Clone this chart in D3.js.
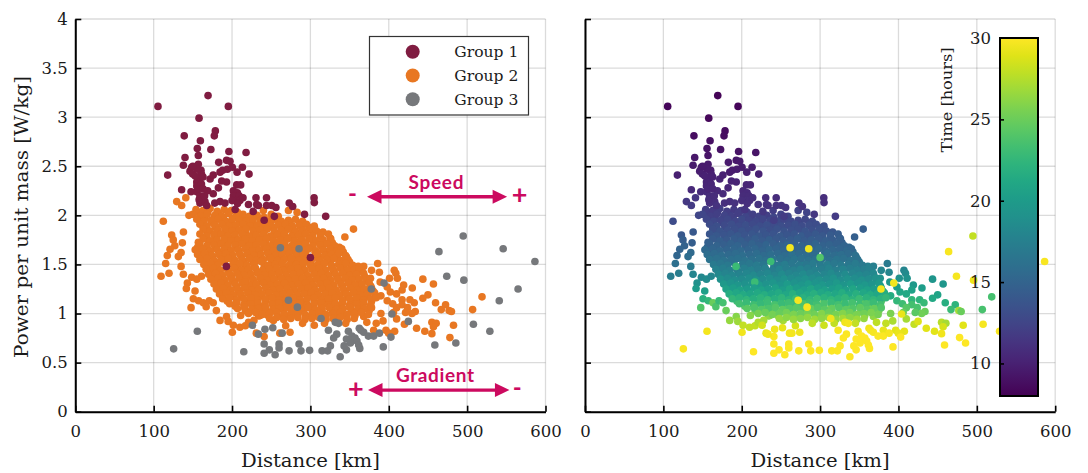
<!DOCTYPE html>
<html><head><meta charset="utf-8">
<script src="https://cdnjs.cloudflare.com/ajax/libs/d3/7.8.5/d3.min.js"></script>
<style>
html,body{margin:0;padding:0;background:#fff}
svg{display:block}
text{font-family:"DejaVu Serif",serif;fill:#1a1a1a}
.ann{font-family:Lato,"Open Sans",sans-serif;font-weight:700;fill:#cc0a5f}
</style></head><body>
<div id="chart"></div>
<script>
const distanceTicks=[0,100,200,300,400,500,600];
const powerTicks=[0,0.5,1,1.5,2,2.5,3,3.5,4];
const timeTicks=[10,15,20,25,30];
const groupNames=["Group 1","Group 2","Group 3"];
const groupColors=["#801c41","#e87722","#76787b"];
// [distance km, power W/kg, time h]
const group1=[[105.5,3.11,8.3],[169.4,3.22,8.2],[195.3,3.11,8.3],[157.9,2.99,8.4],[139,2.81,8.8],[178.7,2.86,8.7],[177.4,2.81,8.8],[159.6,2.76,8.9],[155.7,2.68,9.1],[157,2.61,9.2],[173,2.67,9.1],[196,2.65,9.1],[217.9,2.64,9.2],[140,2.59,9.4],[137.9,2.51,9.6],[183,2.54,9.5],[193,2.56,9.4],[197.4,2.55,9.5],[157,2.52,9.6],[148.5,2.49,9.6],[146.4,2.45,9.8],[160.4,2.46,9.7],[117.9,2.41,9.9],[149.8,2.42,9.9],[161,2.42,9.9],[184.7,2.44,9.8],[188,2.46,9.7],[194,2.47,9.7],[200.4,2.49,9.7],[213.2,2.49,9.7],[206.4,2.44,9.9],[221.7,2.42,10],[172,2.37,10.1],[176,2.41,10],[186.8,2.35,10.2],[193,2.34,10.2],[159,2.37,10.1],[155,2.34,10.2],[155,2.3,10.3],[161,2.32,10.3],[182.6,2.28,10.4],[206,2.31,10.3],[211,2.31,10.3],[201.7,2.25,10.5],[206.8,2.23,10.6],[135.7,2.26,10.5],[147.7,2.24,10.6],[155,2.24,10.6],[169,2.25,10.5],[176,2.22,10.6],[159,2.2,10.7],[201.7,2.2,10.7],[209,2.2,10.7],[230.6,2.18,10.8],[244,2.18,10.8],[159,2.125,11],[165.5,2.14,11],[178,2.125,11],[184.7,2.14,11],[191,2.125,11.1],[206,2.15,10.9],[210,2.15,10.9],[221,2.11,11.1],[231.5,2.11,11.1],[233.6,2.1,11.1],[244,2.1,11.2],[250.6,2.1,11.2],[256,2.08,11.2],[273,2.125,11.1],[277.4,2.09,11.2],[227,2.04,11.5],[241,1.95,12],[254,1.99,11.8],[204,2.06,11.4],[167.7,2.1,11.2],[304.7,2.18,10.9],[305,2.13,11],[292.5,2.01,11.5],[319.5,1.99,11.8],[192.8,1.48,23],[300,1.57,24],[156,2.47,9.7],[163,2.39,10],[157,2.27,10.4],[163,2.27,10.4],[158,2.16,10.8],[200,2.15,10.9],[207,2.12,11],[214,2.18,10.8],[150,2.5,9.6],[153,2.4,10],[165,2.2,10.7]];
const group3=[[125.5,0.64,29.8],[155.7,0.82,29.6],[215,0.61,30],[226,0.88,28.5],[233.6,0.79,29.5],[242,0.84,29.4],[252,0.855,29.2],[264,0.8,29.6],[241,0.69,29.9],[241,0.595,30],[247.6,0.63,30],[255,0.58,30],[260,0.69,30],[260,0.65,30],[272.8,0.62,30],[261.7,1.67,29.6],[285.5,1.66,29.5],[272,1.135,29.7],[283.4,1.065,29.7],[285.5,0.69,30],[288,0.62,30],[495,1.79,28],[546,1.66,29.7],[464,1.63,29.8],[586.5,1.53,29.8],[474,1.38,29.7],[495.8,1.34,29.4],[565,1.25,29.8],[541,1.13,29.8],[394,1.31,29.6],[377.7,1.25,29.6],[508,0.89,29.7],[529,0.82,29.8],[404,0.995,29.3],[425,0.92,28.8],[402.8,0.76,30],[458.8,0.68,30],[485.6,0.7,30],[393,0.66,30],[313.6,0.95,29.4],[331.8,0.91,29.5],[336,0.9,29.6],[323,0.83,29.8],[333.6,0.79,29.9],[329.7,0.75,30],[325.5,0.67,30],[314.9,0.62,30],[322,0.62,30],[299,0.625,30],[346,0.63,30],[338,0.56,30],[348.5,0.82,29.7],[346,0.74,30],[353,0.77,30],[355,0.735,30],[357,0.75,30],[359.4,0.72,30],[361.6,0.68,30],[363,0.645,30],[362.4,0.85,29.5],[364.5,0.83,29.6],[368,0.81,29.7],[374,0.77,29.9],[380.7,0.77,29.9],[388,0.8,29.7],[351,0.7,30],[343,0.67,30]];
const group2=[
[129.4,2.14,11.6],[135.7,2.1,11.8],[141,2.18,11.4],[112.3,1.94,13],[145,2,12.6],[138,1.83,14],[123,1.8,14],[125,1.75,14.5],[127,1.69,14.8],[120.9,1.655,15],[117.4,1.59,15.2],[115.3,1.51,16],[136.6,1.72,14.5],[135,1.62,15.5],[131.5,1.58,15.8],[135,1.48,17],[137.9,1.4,18],[109.4,1.38,17.2],[119.6,1.41,17.2],[143,1.31,19],[141.7,1.255,20],[152.8,1.23,20.3],[148.5,1.37,18.3],[155,1.35,18.6],[161,1.38,18.2],[150.6,1.15,22],[147.7,1.06,24],[157.4,1.13,22.6],[163.4,1.11,25],[167,1.07,23.8],[171,1.13,22.8],[176,1.11,23.5],[180,1.03,25],[184.7,0.93,26.5],[193,0.97,26],[195,0.92,26.8],[200.4,0.81,29.5],[201.7,0.88,28],[210,0.86,28],[217,0.875,28],[221,0.91,27.5],[211,0.98,26],[231,0.8,29.3],[235.7,0.98,26.3],[241,0.765,29.8],[261,0.8,29.6],[274,0.81,29.4],[268.5,0.875,28.6],[252.8,0.93,27],[228,0.93,27],
[154,2.06,12],[163,2.05,11.8],[172,2.07,12.1],[181,2.04,12],[190,2.06,11.7],[199,2.05,12],[207,2.03,12.2],[240,2.05,12],[272,2.05,12.3],[283,2.03,12.4],
[150,2.01,12.6],[160,1.99,12.2],[168,2.01,12.1],[178,2,12.4],[187,1.99,12.2],[195,2.02,12],[205,1.99,12.5],[214,2.01,12.2],[222,1.99,12.4],[232,2,12.1],[241,1.98,12.6],[250,2.01,12.3],[259,1.99,12.5],
[155,1.96,12.6],[164,1.94,12.8],[173,1.95,12.5],[182,1.96,12.7],[192,1.94,12.6],[200,1.96,12.9],[209,1.95,12.5],[218,1.94,12.8],[227,1.96,12.6],[236,1.95,12.7],[245,1.94,12.9],[254,1.96,12.6],[263,1.94,12.8],[272,1.95,12.6],[281,1.96,12.7],[290,1.94,12.9],
[159,1.91,13],[168,1.89,13.3],[178,1.9,12.9],[187,1.91,13.2],[196,1.89,13],[205,1.9,13.3],[214,1.91,12.9],[223,1.89,13.1],[232,1.9,13.4],[241,1.91,13],[250,1.89,13.2],[259,1.9,13],[268,1.91,13.3],[277,1.89,13],[286,1.9,13.2],[295,1.91,13.1],[305,1.89,13.3],
[163,1.86,13.3],[172,1.84,13.6],[182,1.85,13.4],[191,1.86,13.3],[200,1.84,13.6],[209,1.85,13.3],[218,1.86,13.5],[227,1.84,13.7],[236,1.85,13.3],[245,1.86,13.5],[254,1.84,13.6],[263,1.85,13.4],[272,1.86,13.3],[281,1.84,13.7],[290,1.85,13.4],[299,1.86,13.5],[308,1.84,13.6],[355,1.86,14.5],
[159,1.81,13.8],[168,1.79,14],[177,1.8,13.7],[186,1.81,13.9],[195,1.79,14.1],[204,1.8,13.7],[213,1.81,13.9],[222,1.79,14],[231,1.8,13.8],[240,1.81,13.7],[249,1.79,14.1],[258,1.8,13.8],[267,1.81,13.9],[276,1.79,14.2],[285,1.8,13.8],[294,1.81,14],[303,1.79,14],[313,1.8,14.2],[323,1.81,14.3],[344,1.78,14.6],
[163,1.76,14.2],[172,1.74,14.5],[181,1.75,14.1],[190,1.76,14.3],[199,1.74,14.5],[208,1.75,14.1],[217,1.76,14.4],[226,1.74,14.2],[235,1.75,14.5],[244,1.76,14.1],[253,1.74,14.3],[262,1.75,14.2],[271,1.76,14.5],[280,1.74,14.2],[289,1.75,14.4],[298,1.76,14.2],[307,1.74,14.5],[316,1.75,14.3],[326,1.76,14.6],
[159,1.71,14.7],[168,1.69,14.9],[177,1.7,14.6],[186,1.71,14.8],[195,1.69,15],[204,1.7,14.6],[213,1.71,14.9],[222,1.69,14.7],[231,1.7,15],[240,1.71,14.6],[249,1.69,14.8],[258,1.7,15],[267,1.71,14.6],[276,1.69,14.9],[285,1.7,14.7],[294,1.71,15],[303,1.69,14.8],[312,1.7,14.9],[321,1.71,14.7],[331,1.69,15],
[153,1.65,15.4],[163,1.66,15.1],[172,1.64,15.3],[181,1.65,15],[190,1.66,15.2],[199,1.64,15.4],[208,1.65,15],[217,1.66,15.3],[226,1.64,15.1],[235,1.65,15.4],[244,1.66,15],[253,1.64,15.2],[262,1.65,15.4],[271,1.66,15],[280,1.64,15.3],[289,1.65,15.1],[298,1.66,15.4],[307,1.64,15.2],[316,1.65,15.3],[325,1.66,15.1],[334,1.64,15.4],[340,1.66,15.2],
[156,1.6,15.9],[165,1.61,15.6],[174,1.59,15.8],[183,1.6,15.5],[192,1.61,15.7],[201,1.59,15.9],[210,1.6,15.5],[219,1.61,15.8],[228,1.59,15.6],[237,1.6,15.9],[246,1.61,15.5],[255,1.59,15.7],[264,1.6,16],[273,1.61,15.6],[282,1.59,15.8],[291,1.6,15.6],[309,1.61,15.9],[318,1.59,15.7],[327,1.6,15.9],[336,1.61,15.6],[345,1.59,16],
[159,1.55,16.4],[168,1.56,16.1],[177,1.54,16.3],[186,1.55,16],[195,1.56,16.2],[204,1.54,16.4],[213,1.55,16],[222,1.56,16.3],[231,1.54,16.1],[240,1.55,16.5],[249,1.56,16],[258,1.54,16.2],[267,1.55,16.5],[276,1.56,16.1],[285,1.54,16.3],[294,1.55,16.1],[303,1.56,16.4],[312,1.54,16.2],[321,1.55,16.5],[330,1.56,16.1],[339,1.54,16.4],[348,1.55,16.2],
[164,1.5,17],[173,1.51,16.7],[182,1.49,16.9],[201,1.5,16.6],[210,1.51,16.8],[219,1.49,17.1],[228,1.5,16.6],[237,1.53,23],[246,1.49,16.9],[255,1.5,17.2],[264,1.51,16.7],[273,1.49,16.9],[282,1.5,16.7],[291,1.51,17.1],[300,1.49,16.9],[309,1.5,17.2],[318,1.51,16.8],[327,1.49,17],[336,1.5,16.7],[345,1.51,17.1],[354,1.49,16.9],[368,1.48,17.4],
[167,1.45,17.6],[176,1.46,17.3],[185,1.44,17.5],[194,1.45,17.2],[203,1.46,17.4],[212,1.44,17.7],[221,1.45,17.2],[230,1.46,17.5],[239,1.44,17.3],[248,1.45,17.8],[257,1.46,17.2],[266,1.44,17.5],[275,1.45,17.8],[284,1.46,17.3],[293,1.44,17.6],[302,1.45,17.3],[311,1.46,17.7],[320,1.44,17.4],[329,1.45,17.8],[338,1.46,17.3],[347,1.44,17.6],[356,1.45,17.4],[362,1.46,17.6],[385.8,1.51,17],[378,1.44,18],[407,1.44,18],
[170,1.4,18.3],[179,1.41,17.9],[188,1.39,18.1],[197,1.4,17.8],[206,1.41,18.1],[215,1.39,18.4],[224,1.4,17.9],[233,1.41,18.2],[242,1.39,18],[251,1.4,18.5],[260,1.41,17.9],[269,1.39,18.2],[278,1.4,18.5],[287,1.41,18],[296,1.39,18.3],[305,1.4,18],[314,1.41,18.4],[323,1.39,18.1],[332,1.4,18.5],[341,1.41,18],[350,1.39,18.3],[359,1.4,18],[368,1.41,18.3],[388,1.42,18],[409,1.41,18.4],
[173,1.35,19],[182,1.36,18.6],[191,1.34,18.8],[200,1.35,18.5],[209,1.36,18.8],[218,1.34,19.1],[227,1.35,18.6],[236,1.36,18.9],[245,1.34,18.7],[254,1.35,19.2],[263,1.36,18.6],[272,1.34,18.9],[281,1.35,19.2],[290,1.36,18.7],[299,1.34,19],[308,1.35,18.7],[317,1.36,19.1],[326,1.34,18.8],[335,1.35,19.2],[344,1.36,18.7],[353,1.34,19],[362,1.35,18.7],[371,1.36,19],[376.7,1.36,19],[401,1.36,19],[411,1.36,19.2],[443.5,1.35,19.5],
[177,1.3,19.8],[186,1.31,19.4],[195,1.29,19.6],[204,1.3,19.2],[213,1.31,19.5],[222,1.29,19.9],[231,1.3,19.3],[240,1.31,19.6],[249,1.29,19.4],[258,1.3,20],[267,1.31,19.3],[276,1.29,19.6],[285,1.3,20],[294,1.31,19.4],[303,1.29,19.7],[312,1.3,19.4],[321,1.31,19.8],[330,1.29,19.5],[339,1.3,20],[348,1.31,19.4],[357,1.29,19.7],[366,1.3,19.4],[375,1.31,19.8],[389,1.32,19.6],[419,1.29,19.8],[457,1.3,19.6],[216.6,1.32,23],
[180,1.25,20.6],[189,1.26,20.2],[198,1.24,20.4],[207,1.25,20],[216,1.26,20.3],[225,1.24,20.7],[234,1.25,20.1],[243,1.26,20.4],[252,1.24,20.2],[261,1.25,20.9],[270,1.26,20.1],[279,1.24,20.4],[288,1.25,20.9],[297,1.26,20.2],[306,1.24,20.5],[315,1.25,20.2],[324,1.26,20.6],[333,1.24,20.3],[342,1.25,20.9],[351,1.26,20.2],[360,1.24,20.5],[369,1.25,20.2],[378,1.26,20.6],[430,1.26,20.2],[417,1.24,20.6],[402,1.22,21],[398,1.27,20.2],
[184,1.2,21.6],[193,1.21,21.1],[202,1.19,21.4],[211,1.2,20.9],[220,1.21,21.3],[229,1.19,21.7],[238,1.2,21],[247,1.21,21.4],[256,1.19,21.1],[265,1.2,21.9],[274,1.21,21],[283,1.19,21.4],[292,1.2,21.9],[301,1.21,21.1],[310,1.19,21.5],[319,1.2,21.1],[328,1.21,21.6],[337,1.19,21.2],[346,1.2,21.9],[355,1.21,21.1],[364,1.19,21.5],[373,1.2,21.1],[382,1.21,21.6],[410,1.2,21.2],[390,1.18,21.5],[450,1.19,20.8],[519,1.17,23.5],
[188,1.15,22.6],[197,1.16,22.1],[206,1.14,22.4],[215,1.15,21.9],[224,1.16,22.3],[233,1.14,22.8],[242,1.15,22],[251,1.16,22.4],[260,1.14,22.1],[269,1.15,23],[278,1.16,22],[287,1.14,22.4],[296,1.15,23],[305,1.16,22.1],[314,1.14,22.5],[323,1.15,22.1],[332,1.16,22.6],[341,1.14,22.2],[350,1.15,23],[359,1.16,22.1],[368,1.14,22.5],[377,1.15,22.1],[384,1.16,22.6],[427,1.14,22.2],[398,1.13,22.6],[443.5,1.155,21.2],[417,1.14,22.4],
[197,1.1,23.3],[206,1.11,22.9],[215,1.09,23.2],[224,1.1,22.7],[233,1.11,23.1],[242,1.09,23.6],[251,1.1,22.9],[260,1.11,23.2],[269,1.09,22.9],[278,1.1,23.8],[287,1.11,22.9],[296,1.09,23.3],[305,1.1,23.8],[314,1.11,23],[323,1.09,23.4],[332,1.1,23],[341,1.11,23.5],[350,1.09,23.1],[359,1.1,23.8],[368,1.11,23],[377,1.09,23.4],[432.5,1.11,22.8],[417,1.09,23.4],[405,1.1,23.2],[459.7,1.11,21.8],[472.5,1.09,22.2],
[207,1.05,24.4],[216,1.06,23.9],[225,1.04,24.2],[234,1.05,23.8],[243,1.06,24.2],[252,1.04,24.6],[261,1.05,24],[270,1.06,24.3],[279,1.04,24],[288,1.05,24.9],[297,1.06,24],[306,1.04,24.4],[315,1.05,24.8],[324,1.06,24],[333,1.04,24.5],[342,1.05,24],[351,1.06,24.6],[360,1.04,24.2],[369,1.05,24.9],[378,1.06,24],[424,1.06,23.6],[467,1.04,23],[477,1.03,27],[507,1.04,23.6],[410,1.06,24.2],
[221,1,25.4],[230,1.01,25],[239,0.99,25.4],[248,1,24.9],[257,1.01,25.3],[266,0.99,25.7],[275,1,25.1],[284,1.01,25.4],[293,0.99,25.2],[302,1,25.9],[311,1.01,25.1],[320,0.99,25.5],[329,1,25.9],[338,1.01,25.2],[347,0.99,25.6],[356,1,25.2],[365,1.01,25.7],[374,0.99,25.4],[433.8,1.02,25],[429.6,1,25.2],[421.4,1.01,24.4],[406,1.01,25],[480,1.02,25],[390,1,25.6],
[248,0.95,26.6],[257,0.96,26.2],[266,0.94,26.6],[275,0.95,26.1],[284,0.96,26.4],[293,0.94,26.9],[302,0.95,26.3],[311,0.96,26.5],[320,0.94,26.4],[329,0.95,27],[338,0.96,26.3],[347,0.94,26.7],[356,0.95,26.4],[410,0.945,27],[392.7,0.925,27.2],[420,0.89,28],[455,0.91,27.6],[460.5,0.9,27],[457,0.865,28.6],[482.6,0.88,29],[435.5,0.85,29],[446,0.82,29],[455,0.795,29.5],[478,0.755,30],[380.7,0.83,29.3],[396.4,0.83,29],[407.5,0.82,29.2],[399.8,0.8,29.3],[290,0.9,27.8],[305,0.88,28.3],[318,0.9,28],[345,0.9,28],[372,0.91,27.8],[384,0.9,28]
];
// densest part of the cloud, second pass between the points above
const group2Dense=[
[157,2.03,12.2],[169,2.03,12],[183,2.02,12.3],[196,2.03,12.1],
[165,1.97,12.6],[177,1.98,12.3],[189,1.975,12.5],[201,1.97,12.4],[213,1.98,12.6],[226,1.975,12.3],[238,1.97,12.5],[251,1.98,12.4],
[163,1.93,13],[176,1.92,12.7],[188,1.925,13],[199,1.93,12.8],[212,1.92,13],[224,1.93,12.7],[236,1.925,13.1],[249,1.92,12.8],[260,1.93,13],[274,1.925,12.8],[286,1.92,13],
[167,1.87,13.5],[179,1.88,13.1],[191,1.875,13.4],[203,1.87,13.2],[216,1.88,13.5],[227,1.875,13.1],[240,1.87,13.4],[252,1.88,13.2],[265,1.875,13.5],[276,1.87,13.3],[289,1.88,13.4],[300,1.875,13.2],
[168,1.83,13.9],[180,1.82,13.5],[193,1.825,13.8],[204,1.83,13.6],[217,1.82,14],[229,1.825,13.5],[241,1.83,13.8],[254,1.82,13.6],[266,1.825,14],[278,1.83,13.6],[291,1.82,13.9],[303,1.825,13.7],[316,1.83,13.9],
[166,1.78,14.3],[179,1.77,13.9],[191,1.775,14.3],[203,1.78,14],[216,1.77,14.4],[227,1.775,13.9],[239,1.78,14.3],[252,1.77,14],[264,1.775,14.5],[277,1.78,14],[288,1.77,14.3],[301,1.775,14.1],[313,1.78,14.4],[325,1.77,14.2],
[157,1.725,14.5],[170,1.73,14.9],[182,1.72,14.4],[194,1.725,14.8],[206,1.73,14.5],[218,1.72,14.9],[230,1.725,14.4],[243,1.73,14.8],[255,1.72,14.5],[267,1.725,15.1],[279,1.73,14.5],[292,1.72,14.9],[304,1.725,14.6],[316,1.73,14.9],[328,1.72,14.7],
[156,1.675,15],[168,1.68,15.4],[180,1.67,14.9],[193,1.675,15.3],[205,1.68,15],[217,1.67,15.5],[229,1.675,14.9],[241,1.68,15.3],[254,1.67,15],[266,1.675,15.6],[278,1.68,15],[290,1.67,15.4],[302,1.675,15.1],[315,1.68,15.4],[327,1.67,15.2],[337,1.675,15.3],
[160,1.625,15.5],[172,1.63,15.9],[185,1.62,15.4],[197,1.625,15.8],[209,1.63,15.5],[221,1.62,16.2],[233,1.625,15.4],[245,1.63,15.9],[258,1.62,15.5],[270,1.625,16.4],[282,1.63,15.5],[294,1.62,15.9],[306,1.625,15.6],[319,1.63,16],[331,1.62,15.7],[342,1.625,15.8],
[163,1.575,16],[175,1.58,16.5],[188,1.57,15.9],[200,1.575,16.4],[212,1.58,16],[224,1.57,16.8],[236,1.575,16],[248,1.58,16.5],[261,1.57,16.1],[273,1.575,17.2],[285,1.58,16],[297,1.57,16.5],[310,1.575,16.2],[322,1.58,16.6],[334,1.57,16.3],[346,1.575,16.4],
[166,1.525,16.6],[178,1.53,17.2],[190,1.52,16.5],[202,1.525,17],[215,1.53,16.6],[227,1.52,17.6],[239,1.525,16.6],[251,1.53,17.1],[263,1.52,16.7],[276,1.525,18],[288,1.53,16.6],[300,1.52,17.2],[312,1.525,16.8],[325,1.53,17.3],[337,1.52,16.9],[350,1.525,17],
[168,1.475,17.2],[180,1.48,17.8],[193,1.47,17.1],[205,1.475,17.6],[217,1.48,17.2],[229,1.47,18.4],[241,1.475,17.2],[254,1.48,17.8],[266,1.47,17.3],[278,1.475,18.8],[290,1.48,17.2],[303,1.47,17.8],[315,1.475,17.4],[327,1.48,18],[340,1.47,17.5],[352,1.475,17.6],[361,1.48,17.5],
[171,1.425,17.9],[183,1.43,18.5],[196,1.42,17.8],[208,1.425,18.3],[220,1.43,17.9],[232,1.42,19.2],[244,1.425,17.9],[257,1.43,18.5],[269,1.42,18],[281,1.425,19.6],[293,1.43,17.9],[306,1.42,18.5],[318,1.425,18.1],[330,1.43,18.7],[343,1.42,18.2],[355,1.425,18.3],[365,1.43,18.2],
[175,1.375,18.6],[187,1.38,19.2],[199,1.37,18.5],[211,1.375,19.1],[224,1.38,18.6],[236,1.37,20],[248,1.375,18.6],[260,1.38,19.3],[272,1.37,18.7],[285,1.375,20.4],[297,1.38,18.6],[309,1.37,19.3],[321,1.375,18.8],[334,1.38,19.5],[346,1.37,18.9],[358,1.375,19],[369,1.38,18.9],
[178,1.325,19.3],[190,1.33,20],[203,1.32,19.2],[215,1.325,19.9],[227,1.33,19.3],[239,1.32,20.8],[252,1.325,19.3],[264,1.33,20.1],[276,1.32,19.5],[288,1.325,21.3],[301,1.33,19.4],[313,1.32,20.1],[325,1.325,19.6],[338,1.33,20.3],[350,1.32,19.7],[362,1.325,19.8],[373,1.33,19.7],
[181,1.275,20.1],[193,1.28,21],[206,1.27,20],[218,1.275,20.8],[230,1.28,20.2],[243,1.27,21.8],[255,1.275,20.2],[267,1.28,21],[279,1.27,20.4],[292,1.275,22.4],[304,1.28,20.2],[316,1.27,21],[328,1.275,20.5],[341,1.28,21.2],[353,1.27,20.6],[365,1.275,20.7],[377,1.28,20.6],
[184,1.225,21],[196,1.23,22],[209,1.22,20.9],[221,1.225,21.8],[233,1.23,21.1],[246,1.22,23],[258,1.225,21.2],[270,1.23,22.1],[283,1.22,21.4],[295,1.225,23.6],[307,1.23,21.1],[320,1.22,22],[332,1.225,21.5],[344,1.23,22.3],[357,1.22,21.6],[369,1.225,21.7],[380,1.23,21.6],
[188,1.175,22],[200,1.18,23],[212,1.17,21.9],[224,1.175,22.8],[237,1.18,22.1],[249,1.17,24.2],[261,1.175,22.2],[274,1.18,23.2],[286,1.17,22.4],[298,1.175,24.6],[311,1.18,22.2],[323,1.17,23.1],[335,1.175,22.6],[348,1.18,23.4],[360,1.17,22.7],[372,1.175,22.8],[383,1.18,22.7],
[194,1.125,23.2],[206,1.13,24.2],[218,1.12,23],[231,1.125,24],[243,1.13,23.3],[255,1.12,25.4],[268,1.125,23.4],[280,1.13,24.4],[292,1.12,23.6],[305,1.125,25.8],[317,1.13,23.4],[329,1.12,24.3],[341,1.125,23.8],[354,1.13,24.6],[366,1.12,23.9],[378,1.125,24],
[204,1.075,24.2],[216,1.08,25],[228,1.07,24.2],[240,1.075,24.8],[253,1.08,24.3],[265,1.07,25.6],[277,1.075,24.4],[290,1.08,25],[302,1.07,24.5],[314,1.075,25.8],[327,1.08,24.4],[339,1.07,25],[351,1.075,24.6],[364,1.08,25.2],[376,1.07,24.7],
[217,1.025,25],[229,1.03,25.6],[241,1.02,25],[254,1.025,25.4],[266,1.03,25],[278,1.02,26],[291,1.025,25.1],[303,1.03,25.6],[315,1.02,25.2],[328,1.025,26.2],[340,1.03,25.1],[352,1.02,25.6],[365,1.025,25.3],[375,1.03,25.5],
[234,0.975,26],[246,0.98,26.3],[258,0.97,25.9],[271,0.975,26.2],[283,0.98,26],[295,0.97,26.8],[308,0.975,26],[320,0.98,26.4],[332,0.97,26.1],[345,0.975,26.8],[357,0.98,26],[368,0.97,26.3]
];

const W=1088,H=473,yTop=19,yBot=411.7;
const svg=d3.select("#chart").append("svg").attr("width",W).attr("height",H);
const yScale=d3.scaleLinear().domain([0,4]).range([yBot,yTop]);
const xLeft=d3.scaleLinear().domain([0,600]).range([75.3,545.5]);
const xRight=d3.scaleLinear().domain([0,600]).range([585,1055.2]);
const timeColor=d3.scaleSequential([8,30],d3.interpolateViridis);
const tickFont={size:16.5,family:"DejaVu Serif"};

function frame(x){
  const g=svg.append("g");
  g.append("g").selectAll("line").data(distanceTicks).join("line")
    .attr("x1",d=>x(d)).attr("x2",d=>x(d)).attr("y1",yTop).attr("y2",yBot)
    .attr("stroke","#000").attr("stroke-opacity",.14).attr("stroke-width",1.3);
  g.append("g").selectAll("line").data(powerTicks).join("line")
    .attr("y1",d=>yScale(d)).attr("y2",d=>yScale(d)).attr("x1",x(0)).attr("x2",x(600))
    .attr("stroke","#000").attr("stroke-opacity",.14).attr("stroke-width",1.3);
}
function axes(x,withLabels){
  const xAxis=d3.axisBottom(x).tickValues(distanceTicks).tickSizeInner(-6).tickSizeOuter(0).tickPadding(14).tickFormat(d3.format("d"));
  const ax=svg.append("g").attr("transform",`translate(0,${yBot})`).call(xAxis);
  ax.select(".domain").attr("stroke","#000").attr("stroke-width",2);
  ax.selectAll(".tick line").attr("stroke","#000").attr("stroke-width",1.6);
  ax.selectAll("text").attr("font-size",tickFont.size).attr("fill","#1a1a1a").attr("font-family",tickFont.family);
  const yAxis=d3.axisLeft(yScale).tickValues(powerTicks).tickSizeInner(-6).tickSizeOuter(0).tickPadding(7.5).tickFormat(d=>withLabels?String(d):"");
  const ay=svg.append("g").attr("transform",`translate(${x(0)},0)`).call(yAxis);
  ay.select(".domain").attr("stroke","#000").attr("stroke-width",2);
  ay.selectAll(".tick line").attr("stroke","#000").attr("stroke-width",1.6);
  ay.selectAll("text").attr("font-size",tickFont.size).attr("fill","#1a1a1a").attr("font-family",tickFont.family);
  svg.append("text").attr("x",(x(0)+x(600))/2).attr("y",467).attr("text-anchor","middle")
    .attr("font-size",18).attr("textLength",139).attr("lengthAdjust","spacingAndGlyphs").text("Distance [km]");
}
frame(xLeft);
frame(xRight);

const R=3.8;
function dots(sel,data,x,color){
  sel.append("g").selectAll("circle").data(data).join("circle")
    .attr("cx",d=>x(d[0])).attr("cy",d=>yScale(d[1])).attr("r",R).attr("fill",color);
}
const left=svg.append("g");
dots(left,group2Dense,xLeft,groupColors[1]);
dots(left,group2,xLeft,groupColors[1]);
dots(left,group1,xLeft,groupColors[0]);
dots(left,group3,xLeft,groupColors[2]);

const right=svg.append("g");
dots(right,group2Dense,xRight,d=>timeColor(d[2]));
dots(right,group2,xRight,d=>timeColor(d[2]));
dots(right,group1,xRight,d=>timeColor(d[2]));
dots(right,group3,xRight,d=>timeColor(d[2]));

axes(xLeft,true);
axes(xRight,false);

svg.append("text").attr("transform",`translate(28,217) rotate(-90)`).attr("text-anchor","middle")
  .attr("font-size",18).attr("textLength",282).attr("lengthAdjust","spacingAndGlyphs").text("Power per unit mass [W/kg]");

// legend
const lg=svg.append("g");
lg.append("rect").attr("x",369.5).attr("y",36.5).attr("width",159).attr("height",78.5)
  .attr("fill","#fff").attr("stroke","#333").attr("stroke-width",1.2);
groupNames.forEach((n,i)=>{
  const cy=51.7+i*23.8;
  lg.append("circle").attr("cx",412.7).attr("cy",cy).attr("r",7).attr("fill",groupColors[i]);
  lg.append("text").attr("x",454.3).attr("y",cy+5.4).attr("font-size",14.5).attr("textLength",64).attr("lengthAdjust","spacingAndGlyphs").text(n);
});

// annotations
const annColor="#cc0a5f";
function arrow(x0,x1,yv){
  const a=xLeft(x0),b=xLeft(x1),y=yScale(yv);
  svg.append("line").attr("x1",a+10).attr("x2",b-10).attr("y1",y).attr("y2",y).attr("stroke",annColor).attr("stroke-width",3.4);
  svg.append("path").attr("d",`M${a},${y}L${a+14.5},${y-7}L${a+14.5},${y+7}Z`).attr("fill",annColor);
  svg.append("path").attr("d",`M${b},${y}L${b-14.5},${y-7}L${b-14.5},${y+7}Z`).attr("fill",annColor);
}
arrow(372.2,551,2.19);
arrow(373.5,554,0.22);
function ann(t,px,py,size,len){
  const s=svg.append("text").attr("class","ann").attr("x",px).attr("y",py).attr("text-anchor","middle").attr("font-size",size).text(t);
  if(len) s.attr("textLength",len);
}
ann("Speed",436,189,19,55);
ann("Gradient",435,382,19,78);
ann("-",352.5,202,24);
ann("+",519.5,204,27);
ann("+",355.8,398,27);
ann("-",517.3,396,24);

// colorbar
const cbX=1000,cbW=38,cbTop=38,cbBot=396;
const cbY=d3.scaleLinear().domain([8,30]).range([cbBot,cbTop]);
const defs=svg.append("defs");
const grad=defs.append("linearGradient").attr("id","cb").attr("x1",0).attr("x2",0).attr("y1",1).attr("y2",0);
grad.selectAll("stop").data(d3.range(0,1.001,0.05)).join("stop")
  .attr("offset",d=>d).attr("stop-color",d=>d3.interpolateViridis(d));
svg.append("rect").attr("x",cbX).attr("y",cbTop).attr("width",cbW).attr("height",cbBot-cbTop)
  .attr("fill","url(#cb)").attr("stroke","#000").attr("stroke-width",2);
const cAxis=d3.axisLeft(cbY).tickValues(timeTicks).tickSize(0).tickPadding(9).tickFormat(d3.format("d"));
const cg=svg.append("g").attr("transform",`translate(${cbX},0)`).call(cAxis);
cg.select(".domain").remove();
cg.selectAll("text").attr("font-size",tickFont.size).attr("fill","#1a1a1a").attr("font-family",tickFont.family);
cg.selectAll(".tick").filter(d=>d<30).append("line").attr("x1",0).attr("x2",4).attr("stroke","#000").attr("stroke-width",1.6);
svg.append("text").attr("transform",`translate(952,100) rotate(-90)`).attr("text-anchor","middle")
  .attr("font-size",14).attr("textLength",105).attr("lengthAdjust","spacingAndGlyphs").text("Time [hours]");
</script>
</body></html>
